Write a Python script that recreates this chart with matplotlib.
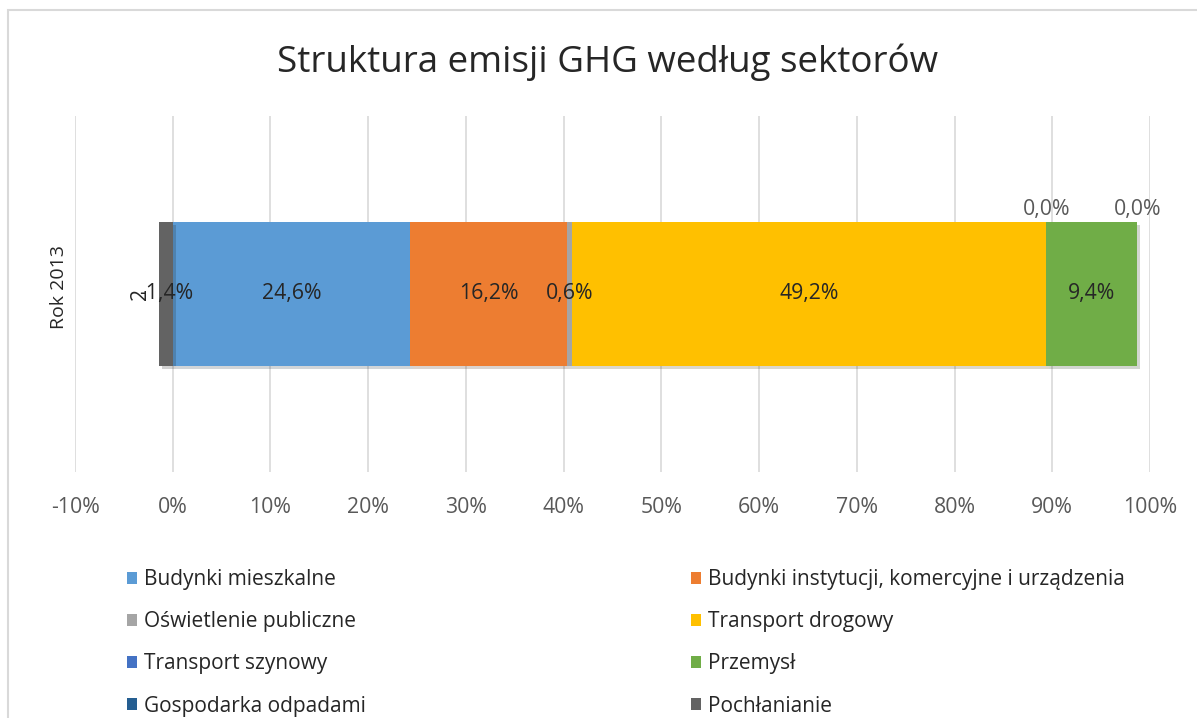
import matplotlib.pyplot as plt
import matplotlib.patheffects as pe
from matplotlib.patches import Rectangle, Patch
from matplotlib.ticker import FuncFormatter

plt.rcParams['font.family'] = ['Open Sans', 'DejaVu Sans']

# Data
category = "Rok 2013"
sectors = [
    "Budynki mieszkalne",
    "Budynki instytucji, komercyjne i urządzenia",
    "Oświetlenie publiczne",
    "Transport drogowy",
    "Transport szynowy",
    "Przemysł",
    "Gospodarka odpadami",
    "Pochłanianie",
]
# bar lengths as drawn on the axis (%)
bar_values = [24.3, 16.0, 0.6, 48.5, 0.0, 9.3, 0.0, -1.4]
# data labels as printed (%)
label_values = [24.6, 16.2, 0.6, 49.2, 0.0, 9.4, 0.0, -1.4]
colors = ["#5B9BD5", "#ED7D31", "#A5A5A5", "#FFC000",
          "#4472C4", "#70AD47", "#255E91", "#636363"]
x_ticks = [-10, 0, 10, 20, 30, 40, 50, 60, 70, 80, 90, 100]

W, H = 1197, 718
fig = plt.figure(figsize=(W / 100, H / 100), dpi=100)
ax = fig.add_axes([75 / W, 1 - 472 / H, 1075 / W, 356 / H])

# chart frame
fig.patches.append(Rectangle((8 / W, -0.1), 1.2, 1 - 10 / H + 0.1,
                             transform=fig.transFigure, fill=False,
                             edgecolor="#D9D9D9", linewidth=1.5))

fs = 15.3
bar_h = 0.405
pos_left = 0.0
neg_left = 0.0
shadow = [pe.SimplePatchShadow(offset=(2, -2), alpha=0.2), pe.Normal()]
for name, val, lab, col in zip(sectors, bar_values, label_values, colors):
    if val >= 0:
        left = pos_left
        pos_left += val
    else:
        neg_left += val
        left = neg_left
    b = ax.barh(0, abs(val), left=left, height=bar_h, color=col,
                label=name, zorder=3)
    if val != 0:
        b[0].set_path_effects(shadow)
    text = f"{lab:.1f}%".replace(".", ",")
    cx = left + abs(val) / 2
    if val == 0:
        ax.text(cx, bar_h / 2 + 0.035, text, ha="center", va="center",
                fontsize=fs, color="#595959", zorder=5)
    else:
        ax.text(cx, 0, text, ha="center", va="center",
                fontsize=fs, color="#262626", zorder=5)

ax.text(-3.3, 0, "2", ha="center", va="center", rotation=90,
        fontsize=fs, color="#262626", zorder=6)

ax.set_xlim(-10, 100)
ax.set_ylim(-0.5, 0.5)
ax.set_xticks(x_ticks)
ax.xaxis.set_major_formatter(FuncFormatter(lambda v, p: f"{int(round(v))}%"))
ax.set_yticks([])
ax.tick_params(axis="x", length=0, pad=18, labelsize=fs, labelcolor="#595959")
ax.grid(axis="x", color="#D9D9D9", linewidth=1.2, zorder=0)
ax.set_axisbelow(True)
for s in ax.spines.values():
    s.set_visible(False)
ax.set_ylabel(category, fontsize=14, color="#262626")
ax.yaxis.set_label_coords(-0.0065, 0.52)

fig.text(608 / W, 1 - 62 / H, "Struktura emisji GHG według sektorów",
         ha="center", va="center", fontsize=26.5, color="#262626")

# legend in two columns
handles = [Patch(facecolor=c) for c in colors]
for start, x0 in [(0, 127), (1, 691)]:
    fig.legend(handles[start::2], sectors[start::2], loc="upper left",
               bbox_to_anchor=(x0 / W, 1 - 569 / H), frameon=False,
               fontsize=15, labelcolor="#262626", handlelength=0.5,
               handleheight=0.5, handletextpad=0.3, labelspacing=1.02,
               borderaxespad=0, borderpad=0)

fig.savefig("out.png", dpi=100)
